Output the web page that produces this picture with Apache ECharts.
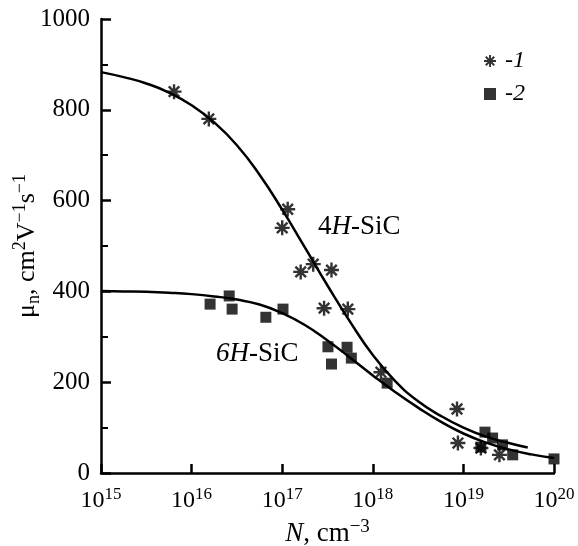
<!DOCTYPE html>
<html>
<head>
<meta charset="utf-8">
<script src="https://cdn.jsdelivr.net/npm/echarts@6/dist/echarts.min.js"></script>
<style>
html,body{margin:0;padding:0;background:#fff;}
#c{width:578px;height:546px;}
</style>
</head>
<body>
<div id="c"></div>
<script>
// ---- data ----
// series 1 (asterisks, 4H-SiC): [N cm^-3, mobility]
const s1N  = [6.4e15, 1.55e16, 1.0e17, 1.15e17, 1.6e17, 2.2e17, 2.9e17, 3.5e17, 5.3e17, 1.23e18, 8.5e18, 8.7e18, 1.56e19, 2.5e19];
const s1Mu = [840, 780, 540, 581, 443, 460, 363, 447, 361, 222, 141, 66, 55, 40];
// series 2 (squares, 6H-SiC)
const s2N  = [1.6e16, 2.6e16, 2.8e16, 6.6e16, 1.02e17, 3.2e17, 3.5e17, 5.2e17, 5.8e17, 1.44e18, 1.56e19, 1.73e19, 2.1e19, 2.7e19, 3.5e19, 1.0e20];
const s2Mu = [372, 390, 361, 343, 361, 278, 240, 277, 253, 198, 57, 90, 77, 62, 40, 31];
// fitted curves (log10 N, mobility)
const c4Exp = [15.0,15.25,15.5,15.75,16.0,16.25,16.5,16.75,17.0,17.25,17.5,17.75,18.0,18.25,18.5,18.75,19.0,19.25,19.5,19.71];
const c4Mu  = [883,872,858,838,810,772,722,657,580,497,413,333,260,202,158,126,100,80,66,56];
const c6Exp = [15.0,15.25,15.5,15.75,16.0,16.25,16.5,16.75,17.0,17.25,17.5,17.75,18.0,18.25,18.5,18.75,19.0,19.25,19.5,19.75,20.0];
const c6Mu  = [401,400,399,397,394,389,382,371,352,326,292,254,215,178,144,113,87,67,52,41,33];
const yTicks = [0, 200, 400, 600, 800, 1000];

const pair = (xs, ys) => xs.map((x, i) => [x, ys[i]]);
const expPair = (es, ys) => es.map((e, i) => [Math.pow(10, e), ys[i]]);

const FONT = "'Liberation Serif', 'Times New Roman', Times, serif";
const ASTER = 'path://M-10,-1.6 L10,-1.6 L10,1.6 L-10,1.6 Z M1.6,-10 L1.6,10 L-1.6,10 L-1.6,-10 Z M-8.2,-5.9 L-5.9,-8.2 L8.2,5.9 L5.9,8.2 Z M8.2,-5.9 L-5.9,8.2 L-8.2,5.9 L5.9,-8.2 Z M-3.5,-3.5 L3.5,-3.5 L3.5,3.5 L-3.5,3.5 Z';

const chart = echarts.init(document.getElementById('c'), null, {renderer: 'canvas'});
chart.setOption({
  backgroundColor: '#fff',
  animation: false,
  textStyle: {fontFamily: FONT},
  grid: {left: 101, right: 24, top: 19, bottom: 73, containLabel: false, outerBoundsMode: 'none'},
  legend: {
    orient: 'vertical', left: 479, top: 44, itemWidth: 12, itemHeight: 12, itemGap: 9,
    data: ['-1', '-2'],
    textStyle: {fontFamily: FONT, fontSize: 24, fontStyle: 'italic', color: '#000', padding: [0, 0, 0, 4]}
  },
  xAxis: {
    type: 'log', logBase: 10, min: 1e15, max: 1e20,
    name: '{i|N}{t|, cm}{sup|−3}', nameLocation: 'middle', nameGap: 40,
    nameTextStyle: {
      color: '#000', fontFamily: FONT,
      rich: {
        i: {fontFamily: FONT, fontSize: 27, fontStyle: 'italic', color: '#000', lineHeight: 30, verticalAlign: 'bottom'},
        t: {fontFamily: FONT, fontSize: 27, color: '#000', lineHeight: 30, verticalAlign: 'bottom'},
        sup: {fontFamily: FONT, fontSize: 19, color: '#000', lineHeight: 17, verticalAlign: 'top'}
      }
    },
    axisLine: {show: true, lineStyle: {color: '#000', width: 2.5}},
    axisTick: {show: true, inside: true, length: 9, lineStyle: {color: '#000', width: 2.5}},
    minorTick: {show: false},
    splitLine: {show: false},
    axisLabel: {
      margin: 13,
      formatter: v => '{b|10}{s|' + Math.round(Math.log10(v)) + '}',
      rich: {
        b: {fontFamily: FONT, fontSize: 24, color: '#000', lineHeight: 27, verticalAlign: 'bottom'},
        s: {fontFamily: FONT, fontSize: 17, color: '#000', lineHeight: 15, verticalAlign: 'top'}
      }
    }
  },
  yAxis: {
    type: 'value', min: yTicks[0], max: yTicks[yTicks.length - 1], interval: 200,
    name: '{t|μ}{sub|n}{t|, cm}{sup|2}{t|V}{sup|−1}{t|s}{sup|−1}',
    nameLocation: 'middle', nameGap: 58, nameRotate: 90, nameMoveOverlap: false,
    nameTextStyle: {
      color: '#000', fontFamily: FONT,
      rich: {
        t: {fontFamily: FONT, fontSize: 26, color: '#000', lineHeight: 32, verticalAlign: 'middle'},
        sub: {fontFamily: FONT, fontSize: 18, color: '#000', lineHeight: 17, verticalAlign: 'bottom'},
        sup: {fontFamily: FONT, fontSize: 18, color: '#000', lineHeight: 17, verticalAlign: 'top'}
      }
    },
    axisLine: {show: true, lineStyle: {color: '#000', width: 2.5}},
    axisTick: {show: true, inside: true, length: 10, lineStyle: {color: '#000', width: 2.5}},
    minorTick: {show: true, splitNumber: 2, length: 7, lineStyle: {color: '#000', width: 2}},
    splitLine: {show: false},
    axisLabel: {margin: 11, fontFamily: FONT, fontSize: 25, color: '#000', formatter: v => String(v)}
  },
  graphic: [
    {type: 'text', left: 318, top: 213, style: {
      text: '4{i|H}-SiC', fontFamily: FONT, fontSize: 27, fill: '#000',
      rich: {i: {fontFamily: FONT, fontSize: 27, fontStyle: 'italic', fill: '#000'}}
    }},
    {type: 'text', left: 216, top: 340, style: {
      text: '{i|6H}-SiC', fontFamily: FONT, fontSize: 27, fill: '#000',
      rich: {i: {fontFamily: FONT, fontSize: 27, fontStyle: 'italic', fill: '#000'}}
    }}
  ],
  series: [
    {type: 'line', data: expPair(c4Exp, c4Mu), smooth: true, showSymbol: false, silent: true,
     lineStyle: {color: '#000', width: 2.5}, z: 2},
    {type: 'line', data: expPair(c6Exp, c6Mu), smooth: true, showSymbol: false, silent: true,
     lineStyle: {color: '#000', width: 2.5}, z: 2},
    {name: '-1', type: 'scatter', data: pair(s1N, s1Mu), symbol: ASTER, symbolSize: 15,
     itemStyle: {color: '#000'}, clip: false, z: 3},
    {name: '-2', type: 'scatter', data: pair(s2N, s2Mu), symbol: 'rect', symbolSize: 11,
     itemStyle: {color: '#000'}, clip: false, z: 3}
  ]
});
</script>
</body>
</html>
